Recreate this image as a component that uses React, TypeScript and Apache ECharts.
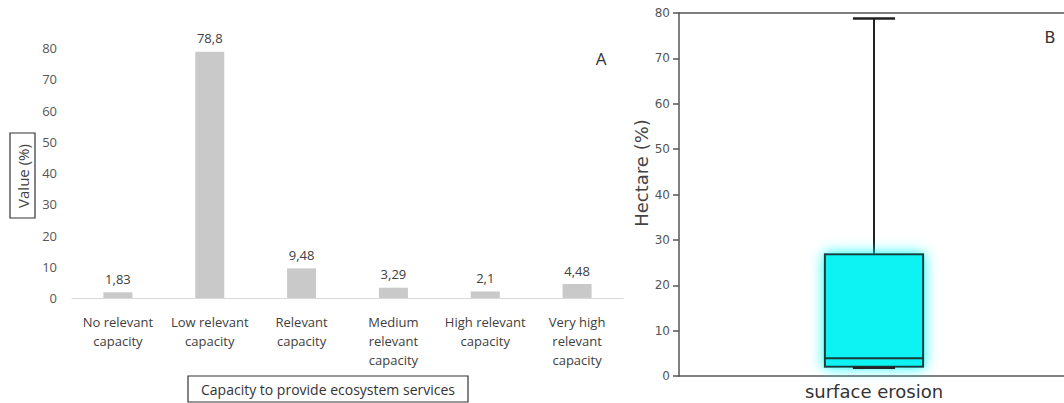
import React, { useEffect, useRef } from "react";
import * as echarts from "echarts";

const categories = [
  "No relevant\ncapacity",
  "Low relevant\ncapacity",
  "Relevant\ncapacity",
  "Medium\nrelevant\ncapacity",
  "High relevant\ncapacity",
  "Very high\nrelevant\ncapacity",
];
const values = [1.83, 78.8, 9.48, 3.29, 2.1, 4.48];

const boxCategories = ["surface erosion"];
// min, Q1, median, Q3, max
const boxStats = [[1.83, 2.03, 3.89, 26.81, 78.8]];

const yMin = 0;
const yMax = 80;
const yStep = 10;

const LEFT_FONT = '"Open Sans", "Liberation Sans", sans-serif';
const RIGHT_FONT = '"DejaVu Sans", sans-serif';

export default function App() {
  const ref = useRef<HTMLDivElement>(null);

  useEffect(() => {
    if (!ref.current) return;
    const chart = echarts.init(ref.current, null, { renderer: "svg" });

    const option: any = {
      animation: false,
      backgroundColor: "#ffffff",
      grid: [
        { left: 72, top: 48, width: 551, height: 250 },
        { left: 679, top: 13, width: 390, height: 363 },
      ],
      xAxis: [
        {
          gridIndex: 0,
          type: "category",
          data: categories,
          axisLine: { lineStyle: { color: "#d9d9d9", width: 1 } },
          axisTick: { show: false },
          axisLabel: {
            interval: 0,
            margin: 14,
            fontSize: 13,
            lineHeight: 19,
            color: "#404040",
            fontFamily: LEFT_FONT,
          },
        },
        {
          gridIndex: 1,
          type: "category",
          data: boxCategories,
          axisLine: { lineStyle: { color: "#555555", width: 1.5 } },
          axisTick: { show: false },
          axisLabel: {
            margin: 6,
            fontSize: 18,
            color: "#333333",
            fontFamily: RIGHT_FONT,
          },
        },
        {
          gridIndex: 1,
          type: "category",
          position: "top",
          data: boxCategories,
          axisLine: { lineStyle: { color: "#555555", width: 1.5 } },
          axisTick: { show: false },
          axisLabel: { show: false },
        },
      ],
      yAxis: [
        {
          gridIndex: 0,
          type: "value",
          min: yMin,
          max: yMax,
          interval: yStep,
          axisLine: { show: false },
          axisTick: { show: false },
          splitLine: { show: false },
          axisLabel: {
            margin: 15,
            fontSize: 13,
            color: "#555555",
            fontFamily: LEFT_FONT,
          },
        },
        {
          gridIndex: 1,
          type: "value",
          min: yMin,
          max: yMax,
          interval: yStep,
          axisLine: { show: true, lineStyle: { color: "#555555", width: 1.5 } },
          axisTick: { show: true, length: 6, lineStyle: { color: "#555555", width: 1.5 } },
          splitLine: { show: false },
          axisLabel: {
            margin: 9,
            fontSize: 12,
            color: "#555555",
            fontFamily: RIGHT_FONT,
          },
        },
      ],
      series: [
        {
          type: "bar",
          xAxisIndex: 0,
          yAxisIndex: 0,
          data: values,
          barWidth: 29,
          itemStyle: { color: "#c9c9c9" },
          label: {
            show: true,
            position: "top",
            distance: 7,
            fontSize: 13,
            color: "#404040",
            fontFamily: LEFT_FONT,
            formatter: (p: any) => String(p.value).replace(".", ","),
          },
        },
        {
          type: "custom",
          xAxisIndex: 1,
          yAxisIndex: 1,
          data: boxStats.map((s, i) => [i, ...s]),
          encode: { x: 0, y: [1, 2, 3, 4, 5] },
          renderItem: (params: any, api: any) => {
            const x = api.value(0);
            const vMin = api.value(1);
            const vQ1 = api.value(2);
            const vMed = api.value(3);
            const vQ3 = api.value(4);
            const vMax = api.value(5);
            const pMin = api.coord([x, vMin]);
            const pQ1 = api.coord([x, vQ1]);
            const pMed = api.coord([x, vMed]);
            const pQ3 = api.coord([x, vQ3]);
            const pMax = api.coord([x, vMax]);
            const band = api.size([1, 0])[0];
            const cx = pMin[0];
            const halfW = band * 0.126;
            const capW = band * 0.054;
            const stroke = "#1d3a3a";
            return {
              type: "group",
              children: [
                {
                  type: "line",
                  shape: { x1: cx, y1: pQ3[1], x2: cx, y2: pMax[1] },
                  style: { stroke: "#222222", lineWidth: 2 },
                },
                {
                  type: "line",
                  shape: { x1: cx - capW, y1: pMax[1], x2: cx + capW, y2: pMax[1] },
                  style: { stroke: "#222222", lineWidth: 2.5 },
                },
                {
                  type: "rect",
                  shape: { x: cx - halfW, y: pQ3[1], width: halfW * 2, height: pQ1[1] - pQ3[1] },
                  style: {
                    fill: "#0cf2f2",
                    stroke: stroke,
                    lineWidth: 2,
                    shadowBlur: 14,
                    shadowColor: "rgba(0,255,255,0.95)",
                  },
                },
                {
                  type: "line",
                  shape: { x1: cx - halfW, y1: pMed[1], x2: cx + halfW, y2: pMed[1] },
                  style: { stroke: stroke, lineWidth: 2 },
                },
                {
                  type: "line",
                  shape: { x1: cx - capW, y1: pMin[1], x2: cx + capW, y2: pMin[1] },
                  style: { stroke: "#222222", lineWidth: 2.5 },
                },
              ],
            };
          },
        },
      ],
      graphic: [
        {
          type: "text",
          x: 601,
          y: 58,
          style: {
            text: "A",
            fontSize: 17,
            fontFamily: LEFT_FONT,
            fill: "#333333",
            align: "center",
            verticalAlign: "middle",
          },
        },
        {
          type: "text",
          x: 1050,
          y: 37,
          style: {
            text: "B",
            fontSize: 16,
            fontFamily: RIGHT_FONT,
            fill: "#333333",
            align: "center",
            verticalAlign: "middle",
          },
        },
        {
          type: "rect",
          shape: { x: 10, y: 133, width: 25, height: 85 },
          style: { fill: "none", stroke: "#333333", lineWidth: 1.2 },
        },
        {
          type: "text",
          x: 22.5,
          y: 176,
          rotation: Math.PI / 2,
          style: {
            text: "Value (%)",
            fontSize: 15,
            fontFamily: LEFT_FONT,
            fill: "#404040",
            align: "center",
            verticalAlign: "middle",
          },
        },
        {
          type: "rect",
          shape: { x: 188, y: 376, width: 280, height: 26 },
          style: { fill: "none", stroke: "#333333", lineWidth: 1.2 },
        },
        {
          type: "text",
          x: 328,
          y: 389,
          style: {
            text: "Capacity to provide ecosystem services",
            fontSize: 14,
            fontFamily: LEFT_FONT,
            fill: "#333333",
            align: "center",
            verticalAlign: "middle",
          },
        },
        {
          type: "text",
          x: 641,
          y: 173,
          rotation: Math.PI / 2,
          style: {
            text: "Hectare (%)",
            fontSize: 18,
            fontFamily: RIGHT_FONT,
            fill: "#444444",
            align: "center",
            verticalAlign: "middle",
          },
        },
      ],
    };

    chart.setOption(option);
    return () => {
      chart.dispose();
    };
  }, []);

  return (
    <div
      style={{
        position: "absolute",
        left: 0,
        top: 0,
        width: 1064,
        height: 403,
        overflow: "hidden",
        background: "#ffffff",
      }}
    >
      <div ref={ref} style={{ width: 1074, height: 403 }} />
    </div>
  );
}
